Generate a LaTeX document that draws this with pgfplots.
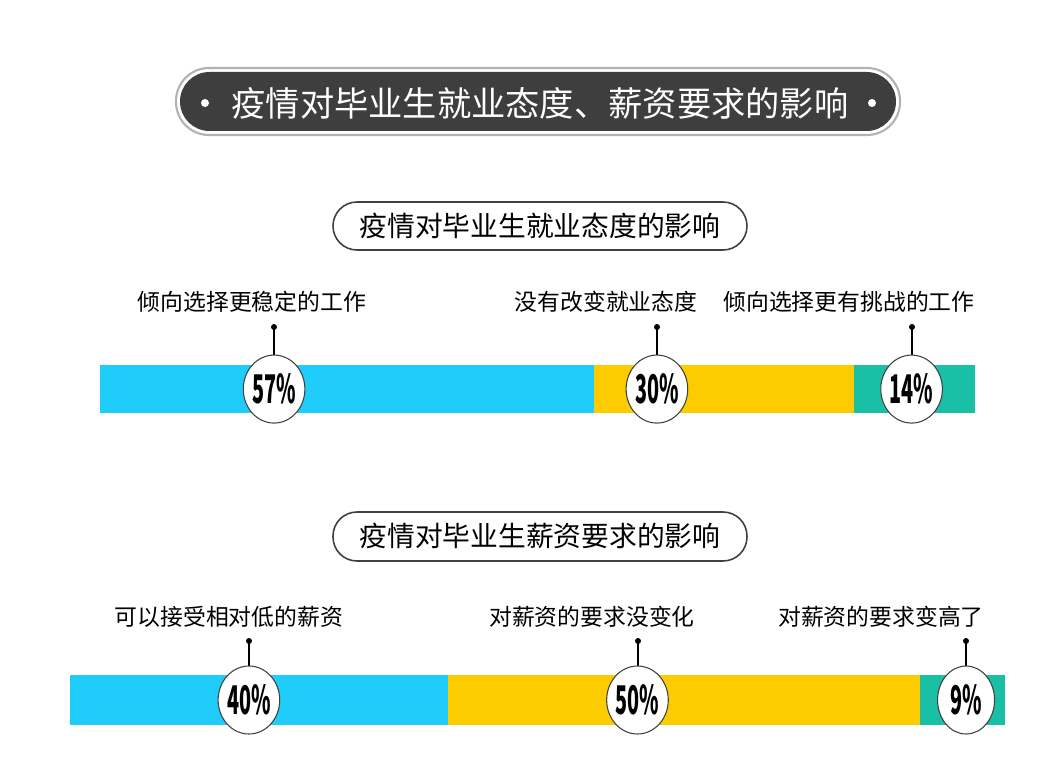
\documentclass[border=0pt]{standalone}
\usepackage{fontspec}
\setmainfont{Noto Sans CJK SC}
\usepackage{graphicx}
\usepackage{pgfplots}
\pgfplotsset{compat=1.18}
\usetikzlibrary{shapes.geometric}

\definecolor{cyanbar}{RGB}{32,205,250}
\definecolor{yellowbar}{RGB}{252,203,0}
\definecolor{tealbar}{RGB}{26,192,165}
\definecolor{pilldark}{RGB}{62,62,62}

\pgfplotsset{
  barbase/.style={scale only axis, hide axis, clip=false,
    ymin=0.5, ymax=1.5, xmin=0, anchor=south west},
  pct/.style={draw=none, mark=none, nodes near coords={\scalebox{0.5}[1]{\pgfplotspointmeta}},
    point meta=explicit symbolic,
    every node near coord/.append style={ellipse, draw=black!75, line width=0.6pt, fill=white,
      minimum width=1.14cm, minimum height=1.36cm, inner sep=0pt, anchor=center,
      font=\fontsize{22.5pt}{22.5pt}\selectfont\bfseries, text=black}},
}

\begin{document}
\begin{tikzpicture}[x=0.02cm, y=0.02cm]
\path[use as bounding box, fill=white] (0,0) rectangle (1056,779);

% main title pill
\draw[gray!60, line width=1.2pt, rounded corners=0.66cm] (176,644) rectangle (900,711);
\fill[pilldark, rounded corners=0.59cm] (180,648) rectangle (896,707);
\node[text=white, font=\fontsize{19.5pt}{19.5pt}\selectfont] at (540,676) {疫情对毕业生就业态度、薪资要求的影响};
\fill[white] (205,676) circle (4);
\fill[white] (872,676) circle (4);

% subtitle pills
\draw[gray!50!black, line width=0.9pt, rounded corners=0.48cm] (333,529) rectangle (747,577);
\node[font=\fontsize{15.8pt}{15.8pt}\selectfont] at (540,553) {疫情对毕业生就业态度的影响};
\draw[gray!50!black, line width=0.9pt, rounded corners=0.48cm] (333,218) rectangle (747,267);
\node[font=\fontsize{15.8pt}{15.8pt}\selectfont] at (540,243) {疫情对毕业生薪资要求的影响};

% category labels and pointers
\begin{scope}[font=\fontsize{13pt}{13pt}\selectfont]
\node at (252,477) {倾向选择更稳定的工作};
\node at (606,477) {没有改变就业态度};
\node at (849,477) {倾向选择更有挑战的工作};
\node at (229,162) {可以接受相对低的薪资};
\node at (592,162) {对薪资的要求没变化};
\node at (881,162) {对薪资的要求变高了};
\end{scope}
\foreach \xx in {274,657,912} {
  \draw[line width=0.6pt] (\xx,452) -- (\xx,418);
  \fill (\xx,452) circle (3);
}
\foreach \xx in {249,638,966} {
  \draw[line width=0.6pt] (\xx,138) -- (\xx,108);
  \fill (\xx,138) circle (3);
}

% bar 1: attitude towards employment
\begin{axis}[barbase, at={(2cm,7.32cm)}, width=17.5cm, height=0.96cm,
  xmax=101, xbar stacked, bar width=0.96cm]
\addplot[fill=cyanbar, draw=none] coordinates {(57,1)};
\addplot[fill=yellowbar, draw=none] coordinates {(30,1)};
\addplot[fill=tealbar, draw=none] coordinates {(14,1)};
\end{axis}
\begin{axis}[barbase, at={(2cm,7.32cm)}, width=17.5cm, height=0.96cm, xmax=101]
\addplot[pct] coordinates {(20.1,1) [57\%] (64.3,1) [30\%] (93.7,1) [14\%]};
\end{axis}

% bar 2: salary expectations
\begin{axis}[barbase, at={(1.4cm,1.08cm)}, width=18.7cm, height=1.0cm,
  xmax=99, xbar stacked, bar width=1.0cm]
\addplot[fill=cyanbar, draw=none] coordinates {(40,1)};
\addplot[fill=yellowbar, draw=none] coordinates {(50,1)};
\addplot[fill=tealbar, draw=none] coordinates {(9,1)};
\end{axis}
\begin{axis}[barbase, at={(1.4cm,1.08cm)}, width=18.7cm, height=1.0cm, xmax=99]
\addplot[pct] coordinates {(18.95,1) [40\%] (60.1,1) [50\%] (94.9,1) [9\%]};
\end{axis}
\end{tikzpicture}
\end{document}
